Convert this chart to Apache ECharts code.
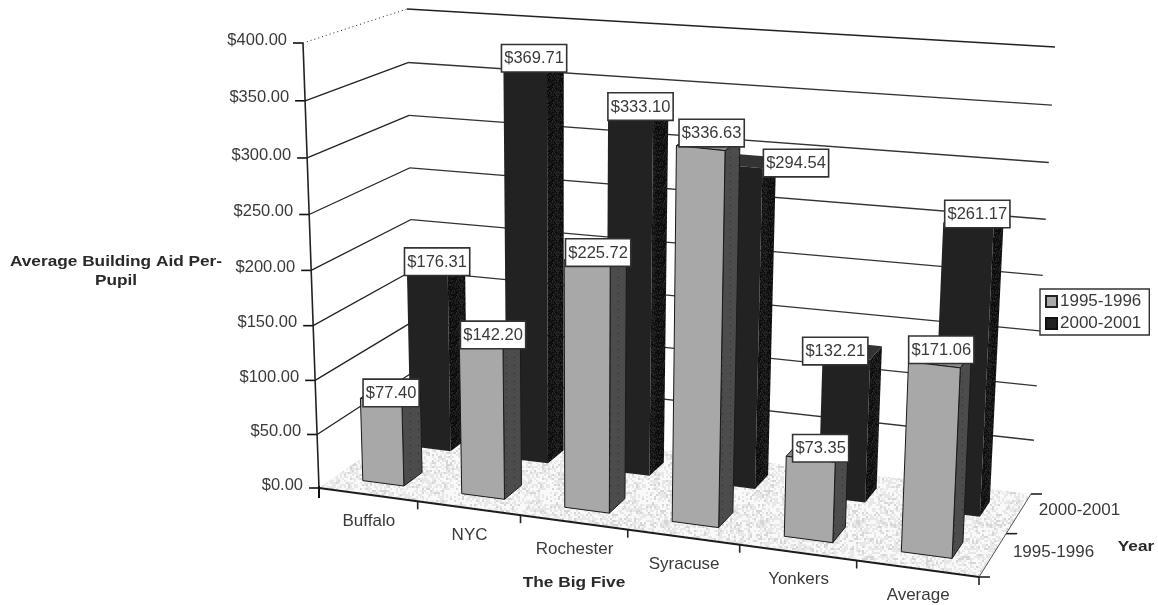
<!DOCTYPE html>
<html>
<head>
<meta charset="utf-8">
<style>html,body{margin:0;padding:0;background:#fff}#chart{width:1158px;height:605px}</style>
<script src="https://cdn.jsdelivr.net/npm/echarts@6/dist/echarts.min.js"></script>
</head>
<body>
<div id="chart"></div>
<script>
// Building aid per pupil in the Big Five districts, two school years.
const categories = ['Buffalo', 'NYC', 'Rochester', 'Syracuse', 'Yonkers', 'Average'];
const yearNames = ['1995-1996', '2000-2001'];
const aid1995 = [77.40, 142.20, 225.72, 336.63, 73.35, 171.06];
const aid2000 = [176.31, 369.71, 333.10, 294.54, 132.21, 261.17];
const valueTicks = [0, 50, 100, 150, 200, 250, 300, 350, 400];
const tickLabels = ['$0.00', '$50.00', '$100.00', '$150.00', '$200.00', '$250.00', '$300.00', '$350.00', '$400.00'];

const FONT = '"Liberation Sans", Arial, sans-serif';
const TEXT = '#3a3a3a';

// Floor corners of the 3D scene: front-left, front-right, back-right, back-left.
const floorQuad = [[319, 488], [979, 577], [1031, 494], [415, 421]];
// Screen vector of the full value range, at the same four corners.
const riseAtCorner = [[-16, -445], [21, -460], [24, -447], [-8, -412]];
// Hand placement of the value boxes, relative to the top of their bars (per row, per category).
const boxShift = [
  [[10, 5], [12, 5], [11, 3], [11, -2], [10, 2], [7, -2]],
  [[10, 9], [9, 7], [10, 6], [57, 10], [-11, 7], [9, 2]]
];

// Unit square to quadrilateral homography.
function homography(q) {
  const [p0, p1, p2, p3] = q;
  const dx1 = p1[0] - p2[0], dx2 = p3[0] - p2[0], sx = p0[0] - p1[0] + p2[0] - p3[0];
  const dy1 = p1[1] - p2[1], dy2 = p3[1] - p2[1], sy = p0[1] - p1[1] + p2[1] - p3[1];
  const d = dx1 * dy2 - dx2 * dy1;
  const g = (sx * dy2 - dx2 * sy) / d, h = (dx1 * sy - sx * dy1) / d;
  const a = p1[0] - p0[0] + g * p1[0], b = p3[0] - p0[0] + h * p3[0];
  const c = p1[1] - p0[1] + g * p1[1], e = p3[1] - p0[1] + h * p3[1];
  return (u, v) => {
    const w = g * u + h * v + 1;
    return [(a * u + b * v + p0[0]) / w, (c * u + e * v + p0[1]) / w];
  };
}
const onFloor = homography(floorQuad);

// u: along the categories, v: into the depth, t: height, all 0..1.
function project(u, v, t) {
  const k = t / (t + (1 - t) * 1.045);
  const a = onFloor(u, v);
  const [r0, r1, r2, r3] = riseAtCorner;
  const mix = (i) => (r0[i] * (1 - u) + r1[i] * u) * (1 - v) + (r3[i] * (1 - u) + r2[i] * u) * v;
  return [a[0] + mix(0) * k, a[1] + mix(1) * k];
}

// Tileable textures for the floor and the bar faces.
function texture(size, paint) {
  const c = document.createElement('canvas');
  c.width = c.height = size;
  const g = c.getContext('2d');
  paint(g, size);
  return { image: c, repeat: 'repeat' };
}
function speckle(base, light, dark, size, mix, cell) {
  const step = cell || 1;
  return texture(size, (g, s) => {
    g.fillStyle = base; g.fillRect(0, 0, s, s);
    let n = 12345;
    for (let y = 0; y < s; y += step) for (let x = 0; x < s; x += step) {
      n = (n * 1103515245 + 12345) & 0x7fffffff;
      const r = (n >> 8) % 100;
      if (r < mix[0]) { g.fillStyle = light; g.fillRect(x, y, step, step); }
      else if (r < mix[0] + mix[1]) { g.fillStyle = dark; g.fillRect(x, y, step, step); }
    }
  });
}
function checker(a, b) {
  return texture(2, (g) => {
    g.fillStyle = a; g.fillRect(0, 0, 2, 2);
    g.fillStyle = b; g.fillRect(0, 0, 1, 1); g.fillRect(1, 1, 1, 1);
  });
}
function dotted(base, dot) {
  return texture(8, (g) => {
    g.fillStyle = base; g.fillRect(0, 0, 8, 8);
    g.fillStyle = dot; g.fillRect(2, 5, 1, 1);
  });
}
const floorFill = speckle('#e8e8e8', '#f9f9f9', '#d6d6d6', 96, [46, 14], 2);
const faces = [
  { front: checker('#a5a5a5', '#ababab'), side: dotted('#4c4c4c', '#2a2a2a'), top: '#8c8c8c', line: '#1a1a1a', lw: 1 },
  { front: '#222222', side: speckle('#141414', '#262626', '#080808', 16, [25, 25]), top: '#333333', line: '#111111', lw: 0 }
];
const rowDepth = [[0.155, 0.345], [0.655, 0.845]];
const BAR_WIDTH = 0.07;

function poly(points, style) {
  return { type: 'polygon', shape: { points }, style };
}
function line(points, stroke, lineWidth, lineDash) {
  return { type: 'polyline', shape: { points }, style: { stroke, lineWidth, fill: null, lineDash } };
}
function label(text, x, y, align, size, weight) {
  return {
    type: 'text', x, y,
    style: {
      text, fill: TEXT, align: align || 'center', verticalAlign: 'middle',
      font: (weight || 'normal') + ' ' + (size || 16.5) + 'px ' + FONT
    }
  };
}
// Converts a (category, value) pair into scene parameters through the chart's axes.
function sceneParams(api, cat, val) {
  const p = api.coord([cat, val]);
  return [p[0] / api.getWidth(), 1 - p[1] / api.getHeight()];
}

function renderWall(params, api) {
  const val = api.value(1);
  const [, t] = sceneParams(api, 0, val);
  const a = project(0, 0, t), b = project(0, 1, t), c = project(1, 1, t);
  const idx = valueTicks.indexOf(val);
  const kids = [
    line([[a[0] - 10, a[1]], a], '#111', 1.6),
    label(tickLabels[idx], a[0] - 16, a[1] - 3, 'right')
  ];
  if (val > 0) {
    kids.push(line([a, b], '#222', val === 400 ? 1 : 1.3, val === 400 ? [1, 3] : null));
    kids.push(line([b, c], val === 400 ? '#222' : '#333', 1.3));
  }
  return { type: 'group', children: kids };
}

function renderFloor(params, api) {
  const bw = api.size([1, 0])[0] / api.getWidth();
  const f = (u, v) => project(u, v, 0);
  const kids = [
    poly([f(0, 0), f(1, 0), f(1, 1), f(0, 1)], { fill: floorFill }),
    line([f(0, 0), f(1, 0)], '#1c1c1c', 2),
    line([f(1, 0), f(1, 1)], '#555', 1),
    line([project(0, 0, 0), project(0, 0, 1)], '#222', 1.6),
    line([[f(0, 0)[0], f(0, 0)[1] - 2], [f(0, 0)[0], f(0, 0)[1] + 10]], '#111', 2)
  ];
  for (let i = 1; i <= categories.length; i++) {
    const p = f(i * bw, 0);
    kids.push(line([p, [p[0], p[1] + 8]], '#222', 1.6));
  }
  [0, 0.5, 1].forEach((v) => {
    const p = f(1, v);
    kids.push(line([p, [p[0] + 11, p[1]]], '#222', 1.6));
  });
  yearNames.forEach((name, i) => {
    const p = f(1, rowDepth[i][0] / 2 + rowDepth[i][1] / 2);
    kids.push(label(name, p[0] + 20, p[1] - 3, 'left', 17));
  });
  return { type: 'group', children: kids };
}

function renderCategory(params, api) {
  const [u] = sceneParams(api, api.value(0), 0);
  const p = project(u, 0, 0);
  return label(categories[api.value(0)], p[0] + 1, p[1] + 27, 'center', 17);
}

function barRenderer(row) {
  return function (params, api) {
    const [uc, t] = sceneParams(api, api.value(0), api.value(1));
    const [v0, v1] = rowDepth[row];
    const u0 = uc - BAR_WIDTH / 2, u1 = uc + BAR_WIDTH / 2;
    const look = faces[row];
    const A = project(u0, v0, 0), B = project(u1, v0, 0), C = project(u1, v1, 0);
    const D = project(u0, v0, t), E = project(u1, v0, t), F = project(u1, v1, t), G = project(u0, v1, t);
    return {
      type: 'group', children: [
        poly([B, C, F, E], { fill: look.side, stroke: look.line, lineWidth: look.lw }),
        poly([D, E, F, G], { fill: look.top, stroke: look.line, lineWidth: look.lw }),
        poly([A, B, E, D], { fill: look.front, stroke: look.line, lineWidth: look.lw })
      ]
    };
  };
}

function renderValueLabel(params, api) {
  const cat = api.value(0), val = api.value(1), row = api.value(2);
  const [uc, t] = sceneParams(api, cat, val);
  const p = project(uc, rowDepth[row][0], t);
  const shift = boxShift[row][cat];
  return {
    type: 'text', x: p[0] + shift[0], y: p[1] + shift[1],
    style: {
      text: '$' + val.toFixed(2), fill: TEXT, align: 'center', verticalAlign: 'bottom',
      font: '16.5px ' + FONT, backgroundColor: '#fff', borderColor: '#333', borderWidth: 1.6,
      padding: [5, 2, 4, 2]
    }
  };
}

function boldTitle(text, x, y) {
  return {
    type: 'text', x, y, scaleX: 1.15,
    style: { text, align: 'center', verticalAlign: 'middle', fill: '#2a2a2a', font: 'bold 15px ' + FONT }
  };
}

const chart = echarts.init(document.getElementById('chart'));
const plain = { type: 'custom', coordinateSystem: 'cartesian2d', silent: true, clip: false, animation: false, encode: { x: 0, y: 1 } };

chart.setOption({
  animation: false,
  backgroundColor: '#fff',
  grid: { left: 0, right: 0, top: 0, bottom: 0 },
  xAxis: { type: 'category', data: categories, show: false },
  yAxis: { type: 'value', min: 0, max: 400, show: false },
  legend: {
    data: yearNames, orient: 'vertical', left: 1040, top: 289,
    icon: 'rect', itemWidth: 11, itemHeight: 11, itemGap: 5, padding: [4, 8, 3, 5],
    borderColor: '#333', borderWidth: 1.4, backgroundColor: '#fff',
    textStyle: { fontFamily: 'Liberation Sans', fontSize: 17, color: TEXT, padding: [0, 0, 0, -2] }
  },
  graphic: [
    boldTitle('Average Building Aid Per-', 116, 262),
    boldTitle('Pupil', 116, 281),
    boldTitle('The Big Five', 574, 583),
    boldTitle('Year', 1136, 547)
  ],
  series: [
    Object.assign({}, plain, { z: 1, data: valueTicks.map((v) => [0, v]), renderItem: renderWall }),
    Object.assign({}, plain, { z: 2, data: [[0, 0]], renderItem: renderFloor }),
    Object.assign({}, plain, { z: 2, data: categories.map((c, i) => [i, 0]), renderItem: renderCategory }),
    Object.assign({}, plain, {
      name: yearNames[1], z: 3, data: aid2000.map((v, i) => [i, v]), renderItem: barRenderer(1),
      itemStyle: { color: '#222222', borderColor: '#111', borderWidth: 1 }
    }),
    Object.assign({}, plain, {
      name: yearNames[0], z: 4, data: aid1995.map((v, i) => [i, v]), renderItem: barRenderer(0),
      itemStyle: { color: '#a9a9a9', borderColor: '#222', borderWidth: 1 }
    }),
    Object.assign({}, plain, {
      z: 5,
      data: aid2000.map((v, i) => [i, v, 1]).concat(aid1995.map((v, i) => [i, v, 0])),
      renderItem: renderValueLabel
    })
  ]
});
</script>
</body>
</html>
